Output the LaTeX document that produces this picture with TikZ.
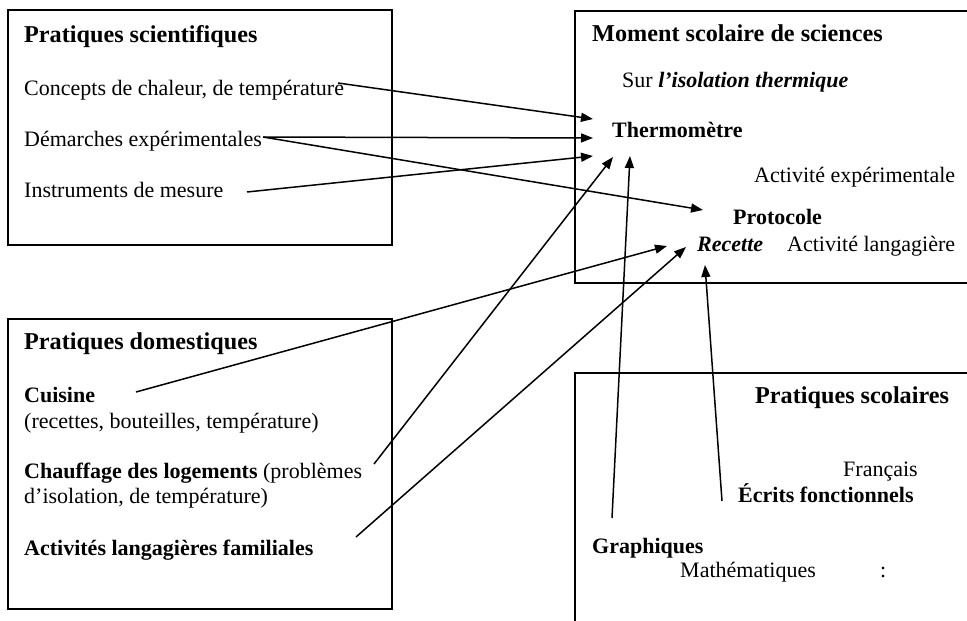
\documentclass[tikz,border=0pt]{standalone}
\usepackage{fontspec}
\setmainfont{Liberation Serif}
\usetikzlibrary{arrows.meta}
\begin{document}
\begin{tikzpicture}[x=1pt,y=-1pt,
 txt/.style={anchor=base west,inner sep=0pt,font=\fontsize{22}{25.5}\selectfont},
 btxt/.style={anchor=base west,inner sep=0pt,font=\fontsize{22}{25.5}\selectfont\bfseries},
 ttl/.style={anchor=base west,inner sep=0pt,font=\fontsize{24.2}{28}\selectfont\bfseries},
 frame/.style={line width=1.2pt},
 arr/.style={line width=1.5pt,-{Triangle[length=12pt,width=9pt]}}]
\useasboundingbox (0,0) rectangle (967,621);
% boxes
\draw[frame] (8,10) rectangle (392,245);
\draw[frame] (967,11) -- (575,11) -- (575,283) -- (967,283);
\draw[frame] (8,319) rectangle (392,609);
\draw[frame] (967,373) -- (575,373) -- (575,621);
% box 1
\node[ttl] (ps) at (24,42) {Pratiques scientifiques};
\node[txt] (cc) at (24,95) {Concepts de chaleur, de température};
\node[txt] (de) at (24,146) {Démarches expérimentales};
\node[txt] (im) at (24,197) {Instruments de mesure};
% box 2
\node[ttl] (ms) at (592,41) {Moment scolaire de sciences};
\node[txt] (sur) at (622,87) {Sur \textbf{\textit{l’isolation thermique}}};
\node[btxt] (th) at (612,137) {Thermomètre};
\node[txt] (ae) at (754,182) {Activité expérimentale};
\node[btxt] (pr) at (733,224) {Protocole};
\node[btxt,font=\fontsize{22}{25.5}\selectfont\bfseries\itshape] (re) at (697,251) {Recette};
\node[txt] (al) at (787,251) {Activité langagière};
% box 3
\node[ttl] (pd) at (24,349) {Pratiques domestiques};
\node[btxt] (cu) at (24,402) {Cuisine};
\node[txt] (cu2) at (24,428) {(recettes, bouteilles, température)};
\node[txt] (ch) at (24,478) {\textbf{Chauffage des logements} (problèmes};
\node[txt] (ch2) at (24,503) {d’isolation, de température)};
\node[btxt] (af) at (24,555) {Activités langagières familiales};
% box 4
\node[ttl] (psc) at (755,403) {Pratiques scolaires};
\node[txt] (fr) at (843,476) {Français};
\node[btxt] (ef) at (738,502) {Écrits fonctionnels};
\node[btxt] (gr) at (592,553) {Graphiques};
\node[txt] (ma) at (680,577) {Mathématiques};
\node[txt] (co) at (880,577) {:};
% arrow end points
\coordinate (s1) at (338,83);
\coordinate (e1) at (593,119);
\coordinate (s2) at (263,137);
\coordinate (e2) at (593,138);
\coordinate (s3) at (247,192);
\coordinate (e3) at (593,156);
\coordinate (e4) at (703,210);
\coordinate (s5) at (136,392);
\coordinate (e5) at (667,246);
\coordinate (s6) at (374,464);
\coordinate (e6) at (613,157);
\coordinate (s7) at (356,537);
\coordinate (e7) at (686,247);
\coordinate (s8) at (612,518);
\coordinate (e8) at (630,156);
\coordinate (s9) at (722,501);
\coordinate (e9) at (705,265);
% arrows
\draw[arr] (s1) -- (e1);
\draw[arr] (s2) -- (e2);
\draw[arr] (s3) -- (e3);
\draw[arr] (s2) -- (e4);
\draw[arr] (s5) -- (e5);
\draw[arr] (s6) -- (e6);
\draw[arr] (s7) -- (e7);
\draw[arr] (s8) -- (e8);
\draw[arr] (s9) -- (e9);
\end{tikzpicture}
\end{document}
